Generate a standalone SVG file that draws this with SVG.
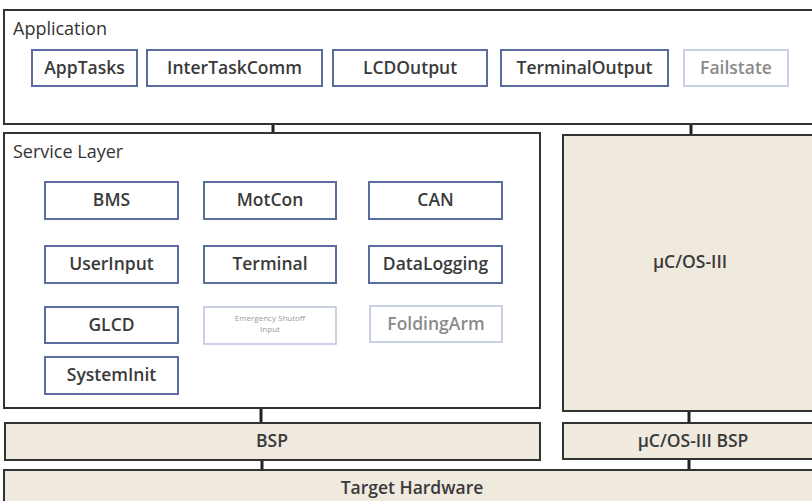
<svg xmlns="http://www.w3.org/2000/svg" width="812" height="501" viewBox="0 0 812 501">
<style>
.frame{fill:#ffffff;stroke:#333333;stroke-width:2}
.beige{fill:#efe9de;stroke:#333333;stroke-width:2}
.mod{fill:#ffffff;stroke:#5a6d9e;stroke-width:2}
.modf{fill:#ffffff;stroke:#b9c2dc;stroke-width:1.5}
.lbl{font-family:"Open Sans","DejaVu Sans",sans-serif;font-size:18px;fill:#333333}
.t{font-family:"Open Sans","DejaVu Sans",sans-serif;font-size:17.5px;font-weight:600;fill:#3a3a3a;text-anchor:middle}
.tf{font-family:"Open Sans","DejaVu Sans",sans-serif;font-size:17.5px;font-weight:600;fill:#8a8a8a;text-anchor:middle}
.ts{font-family:"Open Sans","DejaVu Sans",sans-serif;font-size:8px;fill:#9a9a9a;text-anchor:middle}
.c{stroke:#222222;stroke-width:3}
</style>
<rect width="812" height="501" fill="#ffffff"/>
<g id="connectors">
<line class="c" x1="273" y1="124" x2="273" y2="133"/>
<line class="c" x1="691" y1="124" x2="691" y2="135"/>
<line class="c" x1="261" y1="408" x2="261" y2="423"/>
<line class="c" x1="689" y1="411" x2="689" y2="423"/>
<line class="c" x1="262" y1="460" x2="262" y2="470"/>
<line class="c" x1="689" y1="459" x2="689" y2="470"/>
</g>
<g id="application">
<rect class="frame" x="4" y="10" width="820" height="114"/>
<text class="lbl" x="13" y="35">Application</text>
</g>
<g id="apptasks"><rect class="mod" x="32" y="50" width="105" height="36"/><text class="t" x="84.5" y="74">AppTasks</text></g>
<g id="intertaskcomm"><rect class="mod" x="147" y="50" width="175" height="36"/><text class="t" x="234.5" y="74">InterTaskComm</text></g>
<g id="lcdoutput"><rect class="mod" x="333" y="50" width="154" height="36"/><text class="t" x="410" y="74">LCDOutput</text></g>
<g id="terminaloutput"><rect class="mod" x="501" y="50" width="167" height="36"/><text class="t" x="584.5" y="74">TerminalOutput</text></g>
<g id="failstate"><rect class="modf" x="684" y="50" width="104" height="36"/><text class="tf" x="736" y="74">Failstate</text></g>
<g id="servicelayer">
<rect class="frame" x="4" y="133" width="536" height="275"/>
<text class="lbl" x="13" y="158">Service Layer</text>
</g>
<g id="bms"><rect class="mod" x="45" y="182" width="133" height="37"/><text class="t" x="111.5" y="206">BMS</text></g>
<g id="motcon"><rect class="mod" x="204" y="182" width="132" height="37"/><text class="t" x="270" y="206">MotCon</text></g>
<g id="can"><rect class="mod" x="369" y="182" width="133" height="37"/><text class="t" x="435.5" y="206">CAN</text></g>
<g id="userinput"><rect class="mod" x="45" y="246" width="133" height="37"/><text class="t" x="111.5" y="270">UserInput</text></g>
<g id="terminal"><rect class="mod" x="204" y="246" width="132" height="37"/><text class="t" x="270" y="270">Terminal</text></g>
<g id="datalogging"><rect class="mod" x="369" y="246" width="133" height="37"/><text class="t" x="435.5" y="270">DataLogging</text></g>
<g id="glcd"><rect class="mod" x="45" y="307" width="133" height="36"/><text class="t" x="111.5" y="331">GLCD</text></g>
<g id="emergency"><rect class="modf" x="204" y="307" width="132" height="37"/><text class="ts" x="270" y="321">Emergency Shutoff</text><text class="ts" x="270" y="332">Input</text></g>
<g id="foldingarm"><rect class="modf" x="370" y="306" width="132" height="36"/><text class="tf" x="436" y="330">FoldingArm</text></g>
<g id="systeminit"><rect class="mod" x="45" y="357" width="133" height="37"/><text class="t" x="111.5" y="381">SystemInit</text></g>
<g id="ucos"><rect class="beige" x="563" y="135" width="260" height="276"/><text class="t" x="690" y="268">µC/OS-III</text></g>
<g id="bsp"><rect class="beige" x="5" y="423" width="535" height="37"/><text class="t" x="272" y="447">BSP</text></g>
<g id="ucosbsp"><rect class="beige" x="563" y="423" width="260" height="36"/><text class="t" x="693" y="447">µC/OS-III BSP</text></g>
<g id="targethardware"><rect class="beige" x="4" y="470" width="820" height="40"/><text class="t" x="412" y="494">Target Hardware</text></g>
</svg>
